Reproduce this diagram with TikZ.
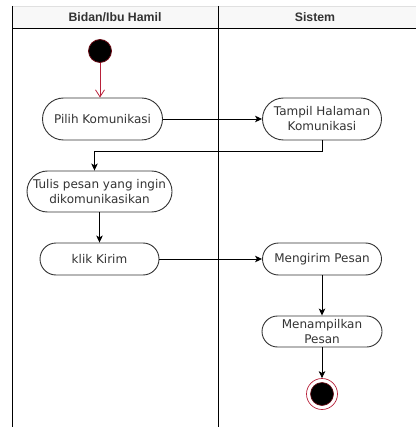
\documentclass[tikz,border=0pt]{standalone}
\usepackage{fontspec}
\usetikzlibrary{arrows.meta,shapes.misc,calc}
\newfontfamily\actfont{DejaVu Sans}
\newfontfamily\lanefont{Liberation Sans}
\definecolor{ink}{HTML}{333333}
\definecolor{headfill}{HTML}{F8F8F8}
\definecolor{flowred}{HTML}{B8213A}
\definecolor{startedge}{HTML}{6A0A14}
\tikzset{
  act/.style={rounded rectangle, draw=ink, line width=0.9pt, fill=white,
    inner sep=0pt, align=center, text=ink, font=\actfont\fontsize{12}{15}\selectfont},
  lanehead/.style={font=\lanefont\bfseries\fontsize{12.3}{14}\selectfont, text=ink},
  flow/.style={draw=black, line width=0.9pt, -{Stealth[length=7pt,width=6.5pt,inset=1.8pt]}},
  redflow/.style={draw=flowred, line width=0.8pt, -{Straight Barb[length=7pt,width=9pt]}},
  lane/.style={draw=black, line width=1pt}
}
\begin{document}
\begin{tikzpicture}[x=1pt,y=-1pt]
\useasboundingbox (0,0) rectangle (416,427);
% swimlane frame
\fill[headfill] (12,6) rectangle (416,29);
\draw[draw=black!12, line width=0.6pt] (12,6) -- (416,6);
\draw[lane] (12,6) -- (12,427);
\draw[lane] (218,6) -- (218,427);
\draw[lane] (12,29) -- (416,29);
\node[lanehead] (laneA) at (115,17.5) {Bidan/Ibu Hamil};
\node[lanehead] (laneB) at (315,17.5) {Sistem};

% initial node
\node[circle, fill=black, draw=startedge, line width=0.8pt, minimum size=23pt, inner sep=0pt] (start) at (100,51) {};

% activities
\node[act, minimum width=120pt, minimum height=42pt] (pilih) at (102.5,119) {Pilih Komunikasi};
\node[act, minimum width=119pt, minimum height=42pt] (tampil) at (322,119) {Tampil Halaman\\Komunikasi};
\node[act, minimum width=145pt, minimum height=41pt] (tulis) at (99.5,191.5) {Tulis pesan yang ingin\\dikomunikasikan};
\node[act, minimum width=119pt, minimum height=32pt] (klik) at (99.5,259) {klik Kirim};
\node[act, minimum width=119pt, minimum height=32pt] (kirim) at (322,259) {Mengirim Pesan};
\node[act, minimum width=120pt, minimum height=31pt] (tampilpesan) at (322,331.5) {Menampilkan\\Pesan};

% final node
\node[circle, draw=flowred, line width=0.7pt, fill=white, minimum size=31pt, inner sep=0pt] (end) at (322,394) {};
\node[circle, fill=black, draw=startedge, line width=0.6pt, minimum size=23pt, inner sep=0pt] (endcore) at (end.center) {};

% control flow
\draw[redflow] (start.south) -- (start.south |- pilih.north);
\draw[flow] (pilih.east) -- (tampil.west);
\draw[flow] (tampil.south) -- ++(0,11.5) -| ([xshift=-5pt]tulis.north);
\draw[flow] (tulis.south) -- (klik.north);
\draw[flow] (klik.east) -- (kirim.west);
\draw[flow] (kirim.south) -- (tampilpesan.north);
\draw[flow] (tampilpesan.south) -- (end.north);
\end{tikzpicture}
\end{document}
